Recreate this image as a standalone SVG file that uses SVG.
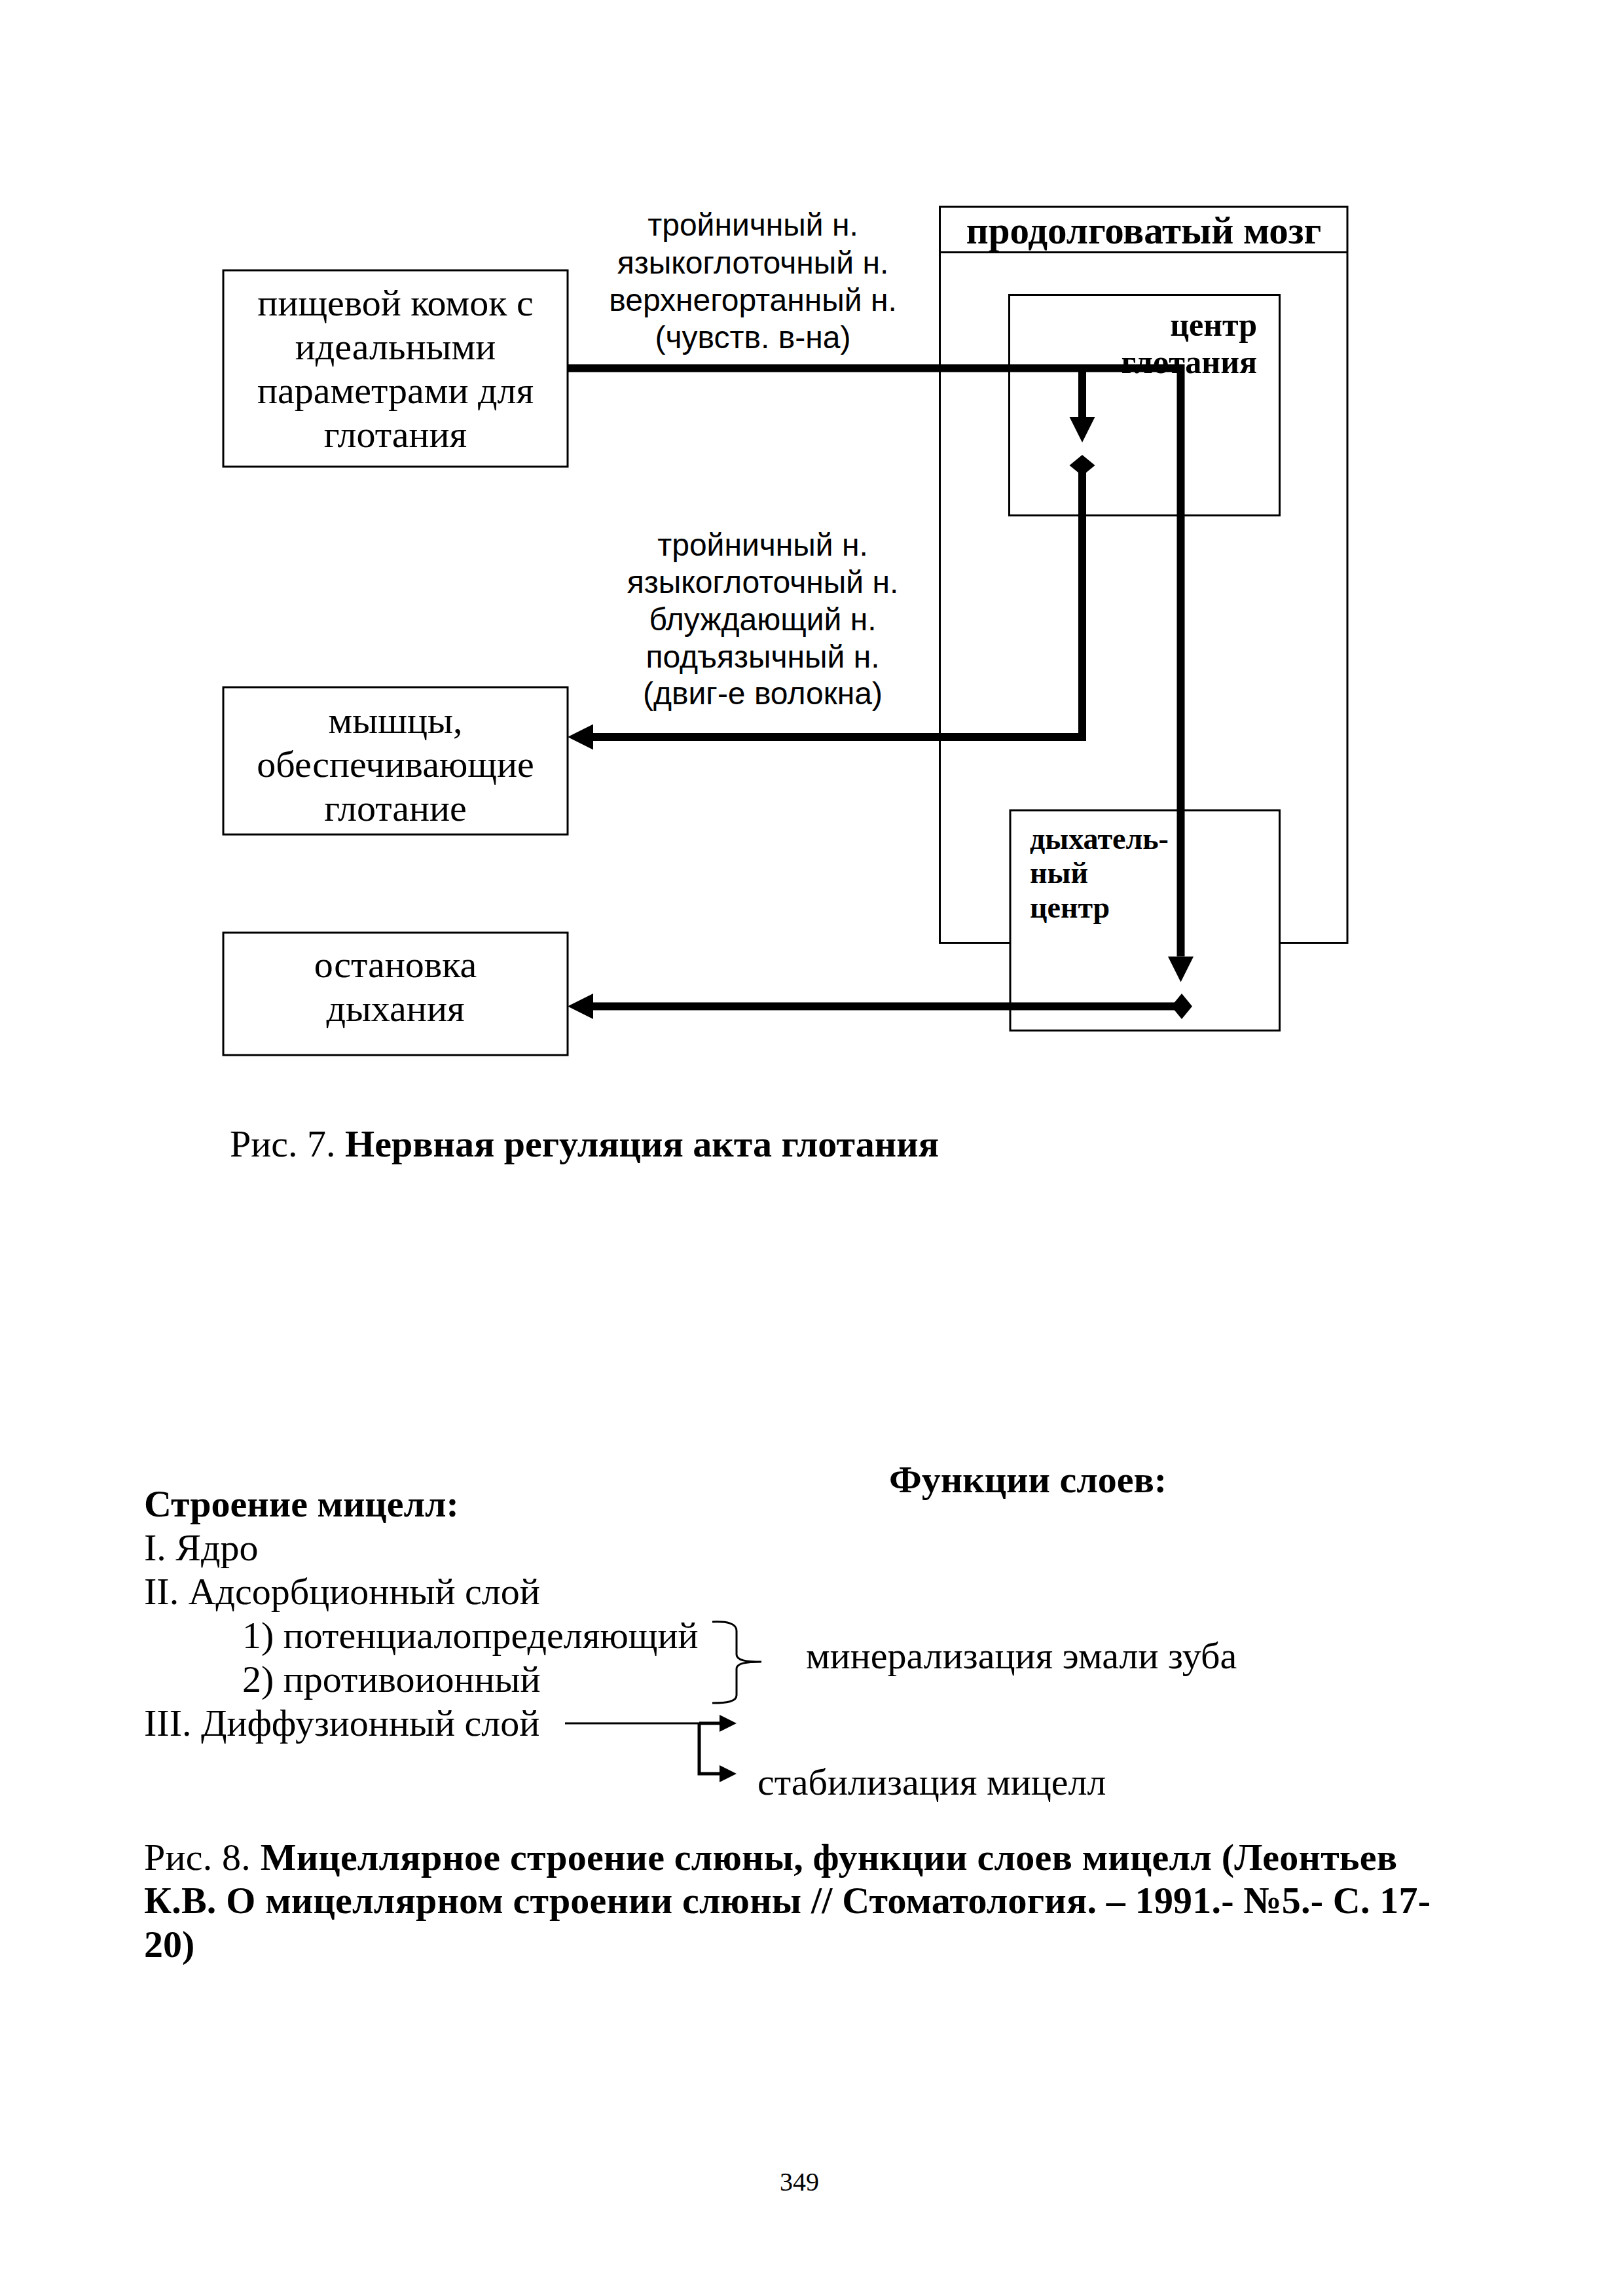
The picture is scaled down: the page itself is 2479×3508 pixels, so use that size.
<svg xmlns="http://www.w3.org/2000/svg" width="2479" height="3508" viewBox="0 0 2479 3508">
<style>
.bg{fill:#fff}
.box{fill:#fff;stroke:#000;stroke-width:3}
.ser{font-family:"Liberation Serif","Times New Roman",serif;fill:#000}
.san{font-family:"Liberation Sans",Arial,sans-serif;fill:#000}
.t58{font-size:58px}
.t48{font-size:48px}
.b{font-weight:bold}
.mid{text-anchor:middle}
.end{text-anchor:end}
.thick{fill:none;stroke:#000;stroke-width:12;stroke-linejoin:miter}
.hair{fill:none;stroke:#000;stroke-width:3}
.thin{fill:none;stroke:#000;stroke-width:5;stroke-linejoin:miter}
.brace{fill:none;stroke:#000;stroke-width:3}
</style>
<defs>
<marker id="arrow" markerUnits="userSpaceOnUse" markerWidth="40" markerHeight="40" refX="0" refY="19.5" orient="auto" overflow="visible">
<path d="M0,0 L39,19.5 L0,39 z" fill="#000"/>
</marker>
<marker id="diamond" markerUnits="userSpaceOnUse" markerWidth="40" markerHeight="40" refX="16" refY="19.5" orient="auto" overflow="visible">
<path d="M0,19.5 L16,0 L32,19.5 L16,39 z" fill="#000"/>
</marker>
<marker id="sarrow" markerUnits="userSpaceOnUse" markerWidth="28" markerHeight="28" refX="0" refY="13" orient="auto" overflow="visible">
<path d="M0,0 L26,13 L0,26 z" fill="#000"/>
</marker>
</defs>
<rect class="bg" x="0" y="0" width="2479" height="3508"/>

<g id="medulla">
<rect class="box" x="1435.5" y="316" width="622.5" height="1124.5"/>
<line x1="1435.5" y1="385.5" x2="2058" y2="385.5" stroke="#000" stroke-width="3"/>
<text class="ser b mid" x="1747" y="372" font-size="59">продолговатый мозг</text>
</g>

<g id="swallow-center">
<rect class="box" x="1541.5" y="450.5" width="413" height="337"/>
<text class="ser b end" x="1920" y="513" font-size="50">центр</text>
<text class="ser b end" x="1920" y="570" font-size="50">глотания</text>
</g>

<g id="resp-center">
<rect class="box" x="1543" y="1238" width="411.5" height="336.5"/>
<text class="ser b" x="1573" y="1297" font-size="46">дыхатель-</text>
<text class="ser b" x="1573" y="1349" font-size="46">ный</text>
<text class="ser b" x="1573" y="1402" font-size="46">центр</text>
</g>

<g id="food">
<rect class="box" x="341" y="413" width="526" height="300"/>
<text class="ser t58 mid" x="604" y="482">пищевой комок с</text>
<text class="ser t58 mid" x="604" y="549">идеальными</text>
<text class="ser t58 mid" x="604" y="616">параметрами для</text>
<text class="ser t58 mid" x="604" y="683">глотания</text>
</g>

<g id="muscles">
<rect class="box" x="341" y="1050" width="526" height="225"/>
<text class="ser t58 mid" x="604" y="1120">мышцы,</text>
<text class="ser t58 mid" x="604" y="1187">обеспечивающие</text>
<text class="ser t58 mid" x="604" y="1254">глотание</text>
</g>

<g id="stop-breathing">
<rect class="box" x="341" y="1425" width="526" height="187"/>
<text class="ser t58 mid" x="604" y="1493">остановка</text>
<text class="ser t58 mid" x="604" y="1560">дыхания</text>
</g>

<g id="label-sensory">
<text class="san t48 mid" x="1150" y="360">тройничный н.</text>
<text class="san t48 mid" x="1150" y="418">языкоглоточный н.</text>
<text class="san t48 mid" x="1150" y="475">верхнегортанный н.</text>
<text class="san t48 mid" x="1150" y="532">(чувств. в-на)</text>
</g>

<g id="label-motor">
<text class="san t48 mid" x="1165" y="849">тройничный н.</text>
<text class="san t48 mid" x="1165" y="906">языкоглоточный н.</text>
<text class="san t48 mid" x="1165" y="963">блуждающий н.</text>
<text class="san t48 mid" x="1165" y="1020">подъязычный н.</text>
<text class="san t48 mid" x="1165" y="1076">(двиг-е волокна)</text>
</g>

<g id="connectors">
<path class="thick" d="M867,562.5 H1803.5 V1461.5" marker-end="url(#arrow)"/>
<path class="thick" d="M1653,562.5 V637" marker-end="url(#arrow)"/>
<path class="thick" d="M1653,711 V1126 H906" marker-start="url(#diamond)" marker-end="url(#arrow)"/>
<path class="thick" d="M1805,1537.5 H906" marker-start="url(#diamond)" marker-end="url(#arrow)"/>
</g>

<g id="caption7">
<text class="ser t58" x="351" y="1767">Рис. 7. <tspan class="b">Нервная регуляция акта глотания</tspan></text>
</g>

<g id="micelle-text">
<text class="ser t58 b" x="1358" y="2280">Функции слоев:</text>
<text class="ser t58 b" x="220" y="2317">Строение мицелл:</text>
<text class="ser t58" x="220" y="2384">I. Ядро</text>
<text class="ser t58" x="220" y="2451">II. Адсорбционный слой</text>
<text class="ser t58" x="370" y="2518">1) потенциалопределяющий</text>
<text class="ser t58" x="370" y="2585">2) противоионный</text>
<text class="ser t58" x="220" y="2652">III. Диффузионный слой</text>
<text class="ser t58" x="1231" y="2549">минерализация эмали зуба</text>
<text class="ser t58" x="1157" y="2742">стабилизация мицелл</text>
</g>

<g id="micelle-connectors">
<path class="brace" d="M1088,2478 C1110,2477 1125,2480 1125,2492 V2528 C1125,2537 1140,2539 1163,2539 C1140,2539 1125,2541 1125,2550 V2590 C1125,2600 1110,2602 1088,2602"/>
<path class="hair" d="M863,2633 H1068"/>
<path class="thin" d="M1068,2633 H1099" marker-end="url(#sarrow)"/>
<path class="thin" d="M1068,2633 V2710 H1099" marker-end="url(#sarrow)"/>
</g>

<g id="caption8">
<text class="ser t58" x="220" y="2857" textLength="1914" lengthAdjust="spacing">Рис. 8. <tspan class="b">Мицеллярное строение слюны, функции слоев мицелл (Леонтьев</tspan></text>
<text class="ser t58 b" x="220" y="2923" textLength="1965" lengthAdjust="spacing">К.В. О мицеллярном строении слюны // Стоматология. – 1991.- №5.- С. 17-</text>
<text class="ser t58 b" x="220" y="2990">20)</text>
</g>

<g id="page-number">
<text class="ser mid" x="1221" y="3347" font-size="40">349</text>
</g>
</svg>
